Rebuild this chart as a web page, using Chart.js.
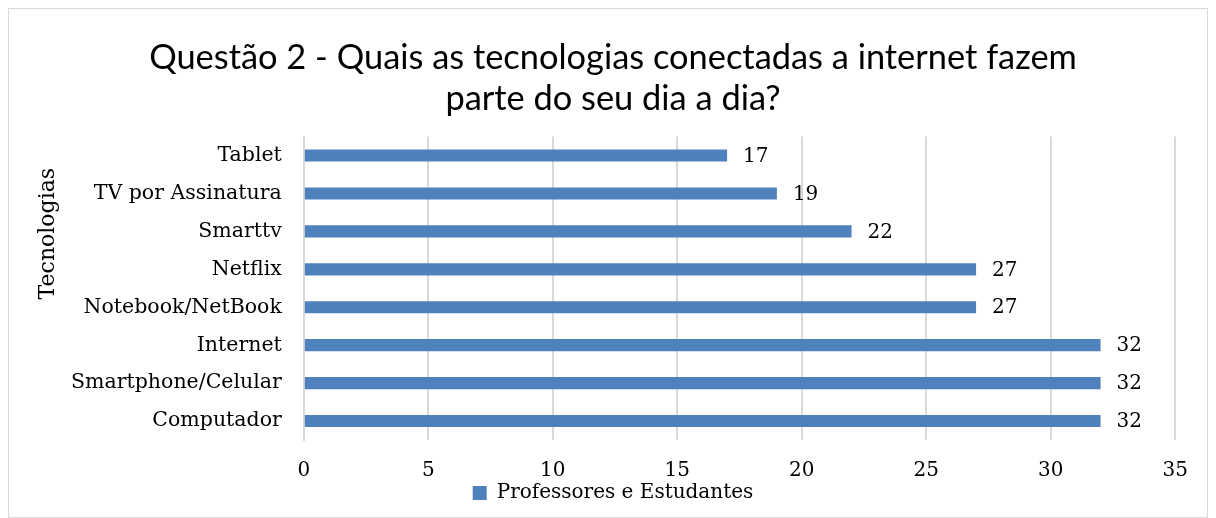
<!DOCTYPE html>
<html>
<head>
<meta charset="utf-8">
<script src="https://cdn.jsdelivr.net/npm/chart.js@4"></script>
<style>
  html, body { margin: 0; padding: 0; background: #fff; }
  #box {
    position: absolute; left: 8px; top: 8px;
    width: 1198px; height: 508px;
    border: 1px solid #d9d9d9; background: #fff;
  }
  canvas { display: block; }
</style>
</head>
<body>
<div id="box"><canvas id="chart" width="1198" height="508"></canvas></div>
<script>
// dados
const categories = ['Tablet', 'TV por Assinatura', 'Smarttv', 'Netflix', 'Notebook/NetBook', 'Internet', 'Smartphone/Celular', 'Computador'];
const values = [17, 19, 22, 27, 27, 32, 32, 32];
const seriesName = 'Professores e Estudantes';
const titleLines = ['Questão 2 - Quais as tecnologias conectadas a internet fazem', 'parte do seu dia a dia?'];
const axisTitle = 'Tecnologias';

const serif = '"DejaVu Serif", "Liberation Serif", serif';

// rótulos de valor ao lado das barras
const valueLabels = {
  id: 'valueLabels',
  afterDatasetsDraw(chart) {
    const { ctx } = chart;
    const meta = chart.getDatasetMeta(0);
    ctx.save();
    ctx.font = '20px ' + serif;
    ctx.fillStyle = '#000';
    ctx.textBaseline = 'middle';
    meta.data.forEach((bar, i) => {
      ctx.fillText(values[i], bar.x + 16, bar.y + 1);
    });
    ctx.restore();
  }
};

// título do eixo Y, um pouco acima do centro como no original
const yTitle = {
  id: 'yTitle',
  afterDraw(chart) {
    const { ctx, chartArea } = chart;
    const y = chartArea.top + (chartArea.bottom - chartArea.top) * 0.32;
    ctx.save();
    ctx.translate(39, y);
    ctx.rotate(-Math.PI / 2);
    ctx.font = '22px ' + serif;
    ctx.fillStyle = '#000';
    ctx.textAlign = 'center';
    ctx.textBaseline = 'middle';
    ctx.fillText(axisTitle, 0, 0);
    ctx.restore();
  }
};

new Chart(document.getElementById('chart'), {
  type: 'bar',
  data: {
    labels: categories,
    datasets: [{
      label: seriesName,
      data: values,
      backgroundColor: '#4f81bd',
      barPercentage: 0.32,
      categoryPercentage: 1
    }]
  },
  options: {
    indexAxis: 'y',
    responsive: false,
    animation: false,
    layout: { padding: { left: 40, right: 30, top: 14, bottom: 4 } },
    scales: {
      x: {
        min: 0, max: 35,
        ticks: { stepSize: 5, color: '#000', font: { family: serif, size: 20 }, padding: 19 },
        grid: { color: '#d9d9d9', lineWidth: 2, drawTicks: false },
        border: { display: false },
        afterFit: (scale) => { scale.height -= 21; }
      },
      y: {
        ticks: { color: '#000', font: { family: serif, size: 20.5 }, padding: 22 },
        grid: { display: false, drawTicks: false },
        border: { display: true, color: '#d9d9d9', width: 2 }
      }
    },
    plugins: {
      title: {
        display: true,
        text: titleLines,
        color: '#000',
        font: { family: 'Lato, "Open Sans", sans-serif', size: 34.4, weight: 'normal', lineHeight: 1.2 },
        padding: { top: 14, bottom: 17 }
      },
      legend: {
        position: 'bottom',
        labels: {
          color: '#000',
          boxWidth: 14, boxHeight: 14,
          padding: 2,
          font: { family: serif, size: 20 }
        }
      },
      tooltip: { enabled: false }
    }
  },
  plugins: [valueLabels, yTitle]
});
</script>
</body>
</html>
